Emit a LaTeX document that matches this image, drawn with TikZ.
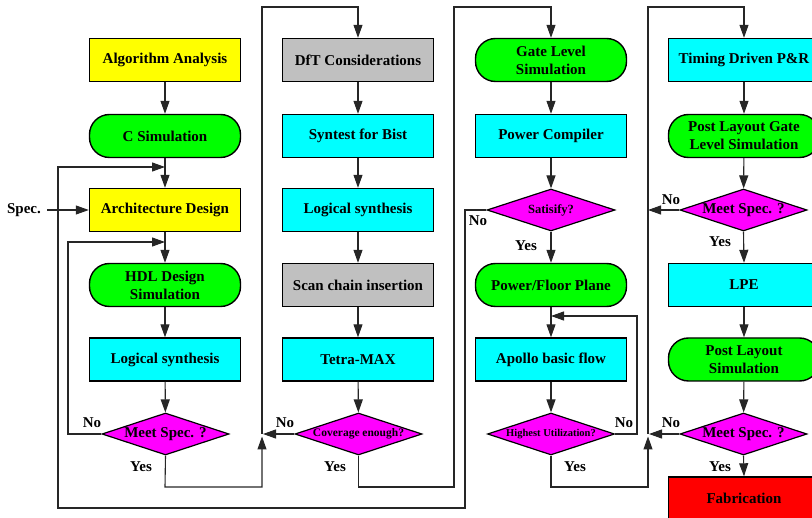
\documentclass[tikz,border=0pt]{standalone}
\usepackage{fontspec}
\setmainfont{Liberation Serif}
\usetikzlibrary{shapes.geometric,arrows.meta}
\definecolor{cy}{RGB}{0,255,255}
\definecolor{gr}{RGB}{0,255,0}
\definecolor{ye}{RGB}{255,255,0}
\definecolor{mg}{RGB}{255,0,255}
\definecolor{gy}{RGB}{192,192,192}
\definecolor{rd}{RGB}{255,0,0}
\tikzset{
  base/.style={draw=black,line width=1.4pt,minimum width=151pt,minimum height=43pt,inner sep=0pt,align=center,
    font=\fontsize{15}{18}\selectfont\bfseries},
  boxy/.style={base,rectangle,fill=ye},
  boxc/.style={base,rectangle,fill=cy},
  boxg/.style={base,rectangle,fill=gy},
  boxr/.style={base,rectangle,fill=rd},
  roundg/.style={base,rectangle,rounded corners=20pt,fill=gr},
  decide/.style={draw=black,line width=1.2pt,diamond,aspect=3,minimum width=127pt,minimum height=42pt,inner sep=0pt,fill=mg,
    font=\fontsize{15}{18}\selectfont\bfseries},
  lbl/.style={font=\fontsize{15}{18}\selectfont\bfseries,inner sep=0pt},
  conn/.style={draw=black!85,line width=1.1pt},
  arr/.style={conn,-{Triangle[length=13pt,width=9pt]}},
}
\begin{document}
\begin{tikzpicture}[x=1pt,y=-1pt]
\useasboundingbox (0,0) rectangle (812,518);
\clip (0,0) rectangle (812,518);
% column 1
\node[boxy] (aa) at (165,60) {Algorithm Analysis};
\node[roundg] (cs) at (165,136) {C Simulation};
\node[boxy] (ad) at (165,210) {Architecture Design};
\node[roundg] (hdl) at (165,285) {HDL Design\\Simulation};
\node[boxc] (ls1) at (165,359.5) {Logical synthesis};
\node[decide] (ms1) at (165.5,434) {Meet Spec. ?};
\node[lbl] (spec) at (24,210) {Spec.};
% column 2
\node[boxg] (dft) at (358,60) {DfT Considerations};
\node[boxc] (syn) at (358,136) {Syntest for Bist};
\node[boxc] (ls2) at (358,210) {Logical synthesis};
\node[boxg] (scan) at (358,285) {Scan chain insertion};
\node[boxc] (tm) at (358,359.5) {Tetra-MAX};
\node[decide,font=\fontsize{11.5}{14}\selectfont\bfseries] (cov) at (358.5,434) {Coverage enough?};
% column 3
\node[roundg] (gls) at (551,60) {Gate Level\\Simulation};
\node[boxc] (pc) at (551,136) {Power Compiler};
\node[decide,minimum width=128pt,font=\fontsize{12.5}{15}\selectfont\bfseries] (sat) at (551,210) {Satisify?};
\node[roundg] (pfp) at (551,285) {Power/Floor Plane};
\node[boxc] (ab) at (551,359.5) {Apollo basic flow};
\node[decide,font=\fontsize{10.5}{13}\selectfont\bfseries] (hu) at (551,434) {Highest Utilization?};
% column 4
\node[boxc] (td) at (744,60) {Timing Driven P\&R};
\node[roundg] (plg) at (744,136) {Post Layout Gate\\Level Simulation};
\node[decide] (ms2) at (743.5,210) {Meet Spec. ?};
\node[boxc] (lpe) at (744,285) {LPE};
\node[roundg] (pls) at (744,359.5) {Post Layout\\Simulation};
\node[decide] (ms3) at (743.5,434) {Meet Spec. ?};
\node[boxr] (fab) at (744,498.5) {Fabrication};
% junction coordinates
\coordinate (fb1) at (165,167);
\coordinate (fb2) at (165,242);
\coordinate (j2) at (262,434);
\coordinate (j2u) at (262,436.5);
\coordinate (j4) at (648,434);
\coordinate (j4u) at (648,436.5);
\coordinate (fb3) at (551,316);
\coordinate (n2) at (648,210);
% column 1 connectors
\draw[arr] (aa) -- (cs);
\draw[arr] (cs) -- (ad);
\draw[arr] (spec.east) ++(6,0) -- (ad.west);
\draw[arr] (ad) -- (hdl);
\draw[arr] (hdl) -- (ls1);
\draw[arr] (ls1) -- (ms1);
\draw[arr] (ms1.west) -- (68,434) -- (68,242) -- (fb2);
\draw[arr] (sat.west) -- (465,210) -- (465,508) -- (58,508) -- (58,167) -- (fb1);
\draw[arr] (ms1.south) -- (165,487) -- (262,487) -- (j2u);
\draw[arr] (j2) -- (262,7) -- (358,7) -- (dft.north);
% column 2
\draw[arr] (dft) -- (syn);
\draw[arr] (syn) -- (ls2);
\draw[arr] (ls2) -- (scan);
\draw[arr] (scan) -- (tm);
\draw[arr] (tm) -- (cov);
\draw[arr] (cov.west) -- (263,434);
\draw[arr] (cov.south) -- (358.5,487) -- (454,487) -- (454,7) -- (551,7) -- (gls.north);
% column 3
\draw[arr] (gls) -- (pc);
\draw[arr] (pc) -- (sat);
\draw[arr] (sat) -- (pfp);
\draw[arr] (pfp) -- (ab);
\draw[arr] (ab) -- (hu);
\draw[arr] (hu.east) -- (637,434) -- (637,316) -- (fb3);
\draw[arr] (hu.south) -- (551,487) -- (648,487) -- (j4u);
\draw[arr] (j4) -- (648,7) -- (744,7) -- (td.north);
% column 4
\draw[arr] (td) -- (plg);
\draw[arr] (plg) -- (ms2);
\draw[arr] (ms2.west) -- (n2);
\draw[arr] (ms2.south) -- (lpe.north);
\draw[arr] (lpe) -- (pls);
\draw[arr] (pls) -- (ms3);
\draw[arr] (ms3.west) -- (649,434);
\draw[arr] (ms3.south) -- (fab.north);
% labels
\node[lbl] at (92,423) {No};
\node[lbl] at (141,467) {Yes};
\node[lbl] at (285,423) {No};
\node[lbl] at (335,467) {Yes};
\node[lbl] at (478,221) {No};
\node[lbl] at (526,246) {Yes};
\node[lbl] at (624,423) {No};
\node[lbl] at (575,467) {Yes};
\node[lbl] at (671,200) {No};
\node[lbl] at (720,242) {Yes};
\node[lbl] at (671,423) {No};
\node[lbl] at (720,467) {Yes};
\end{tikzpicture}
\end{document}
